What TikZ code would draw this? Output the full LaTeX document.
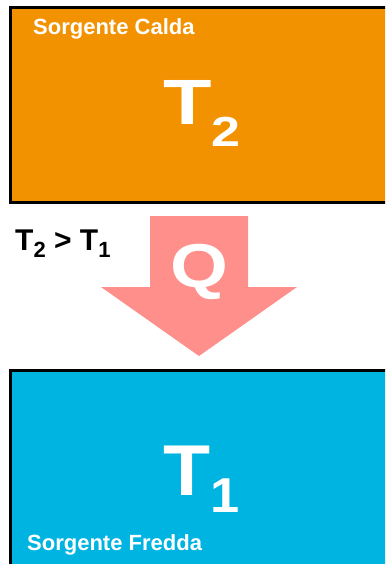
\documentclass[tikz,border=0pt]{standalone}
\usepackage{fontspec}
\setmainfont{Liberation Sans}
\usepackage{graphicx}
\usetikzlibrary{positioning,calc}

\definecolor{calda}{RGB}{243,146,0}
\definecolor{fredda}{RGB}{0,180,226}
\definecolor{flusso}{RGB}{255,143,138}

% subscript: lowering, size, digit
\newcommand{\pedice}[3]{\raisebox{-#1pt}{\fontsize{#2}{#2}\selectfont #3}}

\begin{document}
\begin{tikzpicture}[
    x=1pt, y=-1pt,
    sorgente/.style={rectangle, draw=black, line width=3pt, inner sep=0pt, outer sep=0pt, anchor=north west, minimum width=420pt},
    etichetta/.style={text=white, font=\bfseries\fontsize{22}{22}\selectfont, anchor=base west, inner sep=0pt},
    grande/.style={text=white, font=\bfseries, anchor=base west, inner sep=0pt},
    freccia/.style={fill=flusso, draw=none}
]
    \useasboundingbox (0,0) rectangle (385,564);
    \clip (0,0) rectangle (385,564);

    % Sources
    \node [sorgente, fill=calda, minimum height=194pt] (hot) at (10,8) {};
    \node [sorgente, fill=fredda, minimum height=230pt] (cold) at (10,370.5) {};

    % Labels
    \node [etichetta] (hotlabel) at (33,35) {Sorgente Calda};
    \node [etichetta] (coldlabel) at (27,550) {Sorgente Fredda};
    \node [grande] (t2) at (163,125) {\scalebox{1.24}[1]{\fontsize{64}{64}\selectfont T\pedice{22}{42}{2}}};
    \node [grande] (t1) at (163,495) {\scalebox{1.07}[1]{\fontsize{72}{72}\selectfont T\pedice{17}{49}{1}}};

    % Heat flow
    \draw [freccia] (150,216) -- (248,216) -- (248,287) -- (297,287) -- (199,356) -- (101,287) -- (150,287) -- cycle;
    \node [grande, anchor=base] (q) at (199,287) {\scalebox{1.2}[1]{\fontsize{62}{62}\selectfont Q}};

    % Condition
    \node [grande, text=black] (cond) at (15,250) {\fontsize{30}{30}\selectfont T\pedice{7}{22}{2} > T\pedice{7}{22}{1}};
\end{tikzpicture}
\end{document}
